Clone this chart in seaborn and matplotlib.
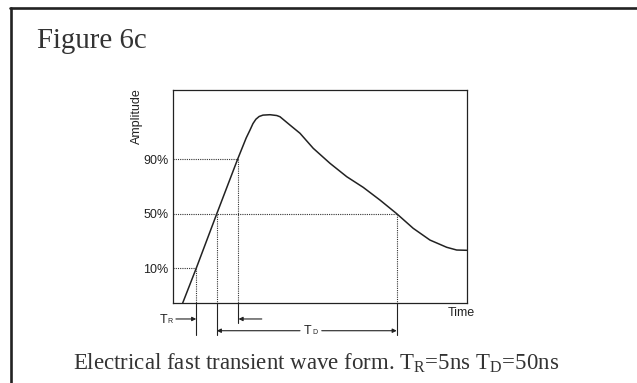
import matplotlib
matplotlib.use("Agg")
from matplotlib import pyplot as plt
from matplotlib.lines import Line2D
import seaborn as sns

# waveform (time in arbitrary units, amplitude in %)
time = [3.4, 8.0, 15.0, 22.1, 25.0, 26.3, 27.3, 28.3, 29.4, 30.7, 33.1, 35.4,
        36.5, 39.9, 43.3, 47.8, 53.5, 59.2, 64.8, 70.5, 76.2, 81.8, 87.5, 93.2,
        96.6, 100.0]
amplitude = [-15.4, 10.0, 50.0, 90.0, 105.5, 111.3, 116.0, 119.2, 121.2, 122.2,
             122.5, 121.9, 121.0, 114.9, 108.9, 97.9, 86.9, 77.1, 69.3, 60.0,
             50.0, 39.3, 30.7, 25.4, 23.4, 23.2]
levels = [10, 50, 90]
level_labels = ["10%", "50%", "90%"]
rise_times = [8.0, 15.0, 22.1]
fall_time_50 = 76.2

sns.set_theme(style="white")
plt.rcParams['font.family'] = ['Liberation Sans', 'DejaVu Sans']
plt.rcParams['mathtext.fontset'] = 'custom'
plt.rcParams['mathtext.rm'] = 'Liberation Serif'

INK = '#222222'
YMIN, YMAX = -15.4, 140.6

fig = plt.figure(figsize=(6.37, 3.83), dpi=100)
ax = fig.add_axes([172.7 / 637, 1 - 303 / 383, 294 / 637, 213 / 383])

sns.lineplot(x=time, y=amplitude, ax=ax, color=INK, lw=1.1)
ax.set_xlim(0, 100)
ax.set_ylim(YMIN, YMAX)

dot = dict(ls=(0, (1, 1)), lw=0.8, color='#333333')
solid = dict(lw=0.8, color=INK, clip_on=False)
# horizontal guides
for lvl, t in zip(levels, rise_times):
    end = fall_time_50 if lvl == 50 else t
    ax.plot([0, end], [lvl, lvl], **dot)
# vertical guides + extensions below the box
drops = [-38.8, -38.8, -29.8]
for lvl, t, d in zip(levels, rise_times, drops):
    ax.plot([t, t], [lvl, YMIN], **dot)
    ax.plot([t, t], [YMIN, d], **solid)
ax.plot([fall_time_50, fall_time_50], [50, YMIN], **dot)
ax.plot([fall_time_50, fall_time_50], [YMIN, -38.8], **solid)

arrow = dict(arrowstyle='-|>', color=INK, lw=0.8, mutation_scale=6, shrinkA=0, shrinkB=0)
ax.annotate('', xy=(rise_times[0], -27.1), xytext=(1.1, -27.1), arrowprops=arrow, annotation_clip=False)
ax.annotate('', xy=(rise_times[2] + 0.3, -27.1), xytext=(30.3, -27.1), arrowprops=arrow, annotation_clip=False)
ax.annotate('', xy=(rise_times[1], -35.7), xytext=(43.3, -35.7), arrowprops=arrow, annotation_clip=False)
ax.annotate('', xy=(fall_time_50, -35.7), xytext=(50.7, -35.7), arrowprops=arrow, annotation_clip=False)

ax.text(-4.56, -30.2, 'T', fontsize=9, ha='left', va='baseline', color=INK)
ax.text(-1.9, -30.2, 'R', fontsize=5, ha='left', va='baseline', color=INK)
ax.text(44.7, -38.1, 'T', fontsize=9, ha='left', va='baseline', color=INK)
ax.text(47.5, -38.1, 'D', fontsize=5, ha='left', va='baseline', color=INK)
ax.text(98.3, -22.7, 'Time', fontsize=9, ha='center', va='center', color=INK)

ax.set_xticks([])
ax.set_yticks(levels, level_labels)
ax.tick_params(axis='y', length=0, pad=3, labelsize=9, labelcolor=INK)
ax.set_xlabel('')
ax.set_ylabel('Amplitude', fontsize=9, color=INK, va='center')
ax.yaxis.set_label_coords(-0.120, 0.879)
for s in ax.spines.values():
    s.set_visible(True)
    s.set_linewidth(0.9)
    s.set_color(INK)

# outer frame (left and top edges visible)
fig.add_artist(Line2D([10 / 637, 1], [1 - 8 / 383, 1 - 8 / 383], transform=fig.transFigure, lw=1.9, color=INK))
fig.add_artist(Line2D([10.7 / 637, 10.7 / 637], [0, 1 - 8 / 383], transform=fig.transFigure, lw=1.9, color=INK))

fig.text(37.3 / 637, 1 - 48.3 / 383, 'Figure 6c', fontsize=20.8, family='Liberation Serif',
         va='baseline', ha='left', color='#333333')
fig.text(73.3 / 637, 1 - 369 / 383,
         r'Electrical fast transient wave form. T$_\mathrm{R}$=5ns T$_\mathrm{D}$=50ns',
         fontsize=16.5, family='Liberation Serif', va='baseline', ha='left', color='#333333')

fig.savefig('out.png', dpi=100)
